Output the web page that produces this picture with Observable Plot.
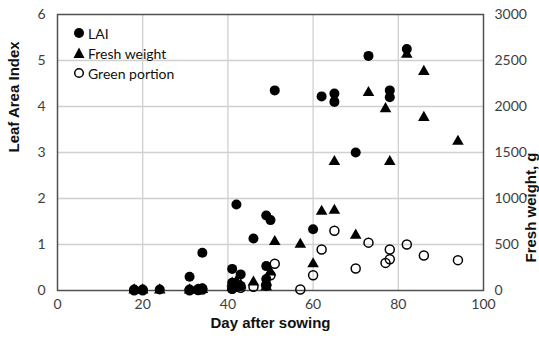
<!DOCTYPE html>
<html>
<head>
<meta charset="utf-8">
<script src="https://cdn.jsdelivr.net/npm/d3@7"></script>
<script src="https://cdn.jsdelivr.net/npm/@observablehq/plot@0.6"></script>
<style>
  body { margin: 0; background: #fff; }
  #wrap { position: relative; width: 539px; height: 338px; }
  #legend { position: absolute; left: 73px; top: 23px; font-family: Lato, "Open Sans", sans-serif; font-size: 14px; color: #111; }
  #legend div { display: flex; align-items: center; height: 20px; }
  #legend svg { margin-right: 3px; }
</style>
</head>
<body>
<div id="wrap"></div>
<script>
// LAI (left axis)
const laiDay = [18, 20, 24, 31, 31, 33, 34, 34, 41, 41, 41, 42, 43, 43, 46, 49, 50, 49, 49, 49, 51, 60, 62, 65, 65, 70, 73, 78, 78, 82];
const laiVal = [0.02, 0.02, 0.02, 0.3, 0.02, 0.03, 0.05, 0.82, 0.47, 0.17, 0.03, 1.87, 0.35, 0.1, 1.13, 1.63, 1.53, 0.53, 0.25, 0.1, 4.35, 1.33, 4.22, 4.28, 4.1, 3.0, 5.1, 4.35, 4.2, 5.25];
// Fresh weight, g (right axis)
const fwDay = [18, 20, 24, 31, 33, 34, 41, 41, 42, 43, 46, 49, 49, 50, 51, 57, 60, 62, 65, 65, 70, 73, 77, 78, 82, 86, 86, 94];
const fwVal = [5, 5, 5, 5, 5, 10, 30, 80, 100, 60, 90, 90, 40, 200, 530, 500, 290, 860, 870, 1400, 600, 2150, 1975, 1400, 2565, 2380, 1880, 1620];
// Green portion, g (right axis)
const gpDay = [18, 20, 31, 33, 34, 41, 42, 43, 46, 49, 50, 51, 57, 60, 62, 65, 70, 73, 77, 78, 78, 82, 86, 94];
const gpVal = [2, 2, 2, 5, 10, 20, 40, 30, 40, 60, 165, 290, 10, 165, 445, 650, 240, 520, 300, 340, 445, 500, 380, 330];

const xTicks = [0, 20, 40, 60, 80, 100];
const yTicks = [0, 1, 2, 3, 4, 5, 6];
const gPerUnit = 500;

const lai = laiDay.map((d, i) => ({day: d, v: laiVal[i]}));
const fw = fwDay.map((d, i) => ({day: d, v: fwVal[i] / gPerUnit}));
const gp = gpDay.map((d, i) => ({day: d, v: gpVal[i] / gPerUnit}));

const tickFont = "Lato, 'Open Sans', sans-serif";
const titleFont = "'Liberation Sans', Arial, sans-serif";

const chart = Plot.plot({
  width: 539,
  height: 338,
  marginLeft: 57,
  marginRight: 56,
  marginTop: 14,
  marginBottom: 48,
  style: {fontFamily: tickFont, fontSize: "14px", color: "#404040", background: "#fff"},
  x: {domain: [0, 100]},
  y: {domain: [0, 6]},
  marks: [
    Plot.gridX([20, 40, 60, 80], {stroke: "#d0d0d0", strokeOpacity: 1, strokeWidth: 1.3}),
    Plot.gridY([1, 2, 3, 4, 5], {stroke: "#d0d0d0", strokeOpacity: 1, strokeWidth: 1.3}),
    Plot.frame({stroke: "#505050", strokeWidth: 1.5}),
    Plot.axisX({ticks: xTicks, tickSize: 0, tickPadding: 9, tickFormat: d => String(d), label: null}),
    Plot.axisY({anchor: "left", ticks: yTicks, tickSize: 0, tickPadding: 12, tickFormat: d => String(d), label: null}),
    Plot.axisY({anchor: "right", ticks: yTicks, tickSize: 0, tickPadding: 11, tickFormat: d => String(d * gPerUnit), label: null}),
    Plot.text(["Leaf Area Index"], {frameAnchor: "left", dx: -43, rotate: -90, fontWeight: "bold", fontSize: 15, fontFamily: titleFont, fill: "#111"}),
    Plot.text(["Fresh weight, g"], {frameAnchor: "right", dx: 48, rotate: -90, fontWeight: "bold", fontSize: 15, fontFamily: titleFont, fill: "#111"}),
    Plot.text(["Day after sowing"], {frameAnchor: "bottom", dy: 37, fontWeight: "bold", fontSize: 15, fontFamily: titleFont, fill: "#111"}),
    Plot.dot(lai, {x: "day", y: "v", r: 5, fill: "#000", stroke: "none"}),
    Plot.dot(fw, {x: "day", y: "v", r: 4.3, symbol: "triangle", fill: "#000", stroke: "none"}),
    Plot.dot(gp, {x: "day", y: "v", r: 4.5, fill: "none", stroke: "#000", strokeWidth: 1.5})
  ]
});

const wrap = document.getElementById("wrap");
wrap.appendChild(chart);

const legend = document.createElement("div");
legend.id = "legend";
const items = [
  {label: "LAI", svg: '<circle cx="6" cy="6" r="5" fill="#000"/>'},
  {label: "Fresh weight", svg: '<path d="M6,0.5 L11.5,11 L0.5,11 Z" fill="#000"/>'},
  {label: "Green portion", svg: '<circle cx="6" cy="6" r="4.3" fill="none" stroke="#000" stroke-width="1.5"/>'}
];
for (const it of items) {
  const row = document.createElement("div");
  row.innerHTML = `<svg width="12" height="12" viewBox="0 0 12 12">${it.svg}</svg><span>${it.label}</span>`;
  legend.appendChild(row);
}
wrap.appendChild(legend);
</script>
</body>
</html>
